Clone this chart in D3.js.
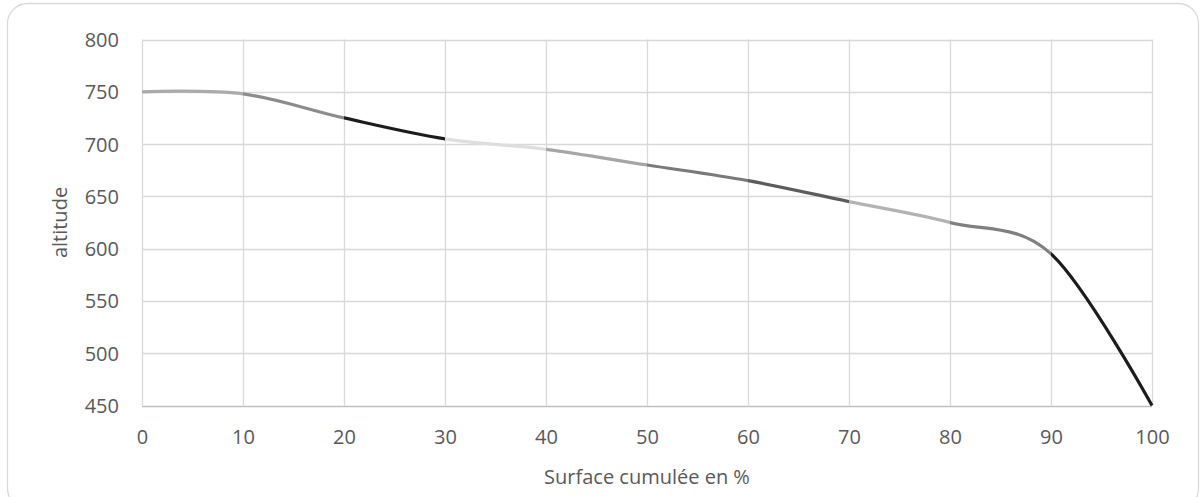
<!DOCTYPE html>
<html>
<head>
<meta charset="utf-8">
<script src="https://cdn.jsdelivr.net/npm/d3@7"></script>
<style>
  html, body { margin: 0; padding: 0; background: #fff; }
  svg { display: block; }
  text { font-family: "Open Sans", "Noto Sans", sans-serif; fill: #595959; }
</style>
</head>
<body>
<svg id="chart" width="1201" height="497"></svg>
<script>
// Cumulative surface (%) against altitude (m)
const surface = [0, 10, 20, 30, 40, 50, 60, 70, 80, 90, 100];
const altitude = [750, 748, 725, 705, 695, 680, 665, 645, 625, 595, 450];
// one grey per 10 % band
const segmentColors = ["#ababab", "#8c8c8c", "#1c1c1c", "#dedede", "#a6a6a6",
                       "#7a7a7a", "#5c5c5c", "#b3b3b3", "#808080", "#1c1c1c"];
const xTicks = [0, 10, 20, 30, 40, 50, 60, 70, 80, 90, 100];
const yTicks = [450, 500, 550, 600, 650, 700, 750, 800];
const xTitle = "Surface cumulée en %";
const yTitle = "altitude";

const svg = d3.select("#chart");
const plotLeft = 142, plotRight = 1152, plotTop = 39.5, plotBottom = 405.5;

const x = d3.scaleLinear().domain([0, 100]).range([plotLeft, plotRight]);
const y = d3.scaleLinear().domain([450, 800]).range([plotBottom, plotTop]);

// outer frame
svg.append("rect")
  .attr("x", 7.5).attr("y", 3.5)
  .attr("width", 1191).attr("height", 505)
  .attr("rx", 20).attr("ry", 20)
  .attr("fill", "#fff").attr("stroke", "#d9d9d9").attr("stroke-width", 1.3);

// gridlines
const grid = svg.append("g");
grid.selectAll(".hg").data(yTicks.filter(d => d !== 450)).enter().append("line")
  .attr("x1", plotLeft).attr("x2", plotRight)
  .attr("y1", d => Math.round(y(d)) + 0.5).attr("y2", d => Math.round(y(d)) + 0.5)
  .attr("stroke", "#d9d9d9").attr("stroke-width", 1.3);
grid.selectAll(".vg").data(xTicks).enter().append("line")
  .attr("x1", d => Math.round(x(d)) + 0.5).attr("x2", d => Math.round(x(d)) + 0.5)
  .attr("y1", plotTop).attr("y2", plotBottom)
  .attr("stroke", "#d9d9d9").attr("stroke-width", 1.3);

// horizontal axis line
svg.append("line")
  .attr("x1", plotLeft).attr("x2", plotRight)
  .attr("y1", Math.round(y(450)) + 0.5).attr("y2", Math.round(y(450)) + 0.5)
  .attr("stroke", "#bfbfbf").attr("stroke-width", 1.3);

// axes (labels only)
const xAxis = d3.axisBottom(x).tickValues(xTicks).tickSize(0).tickPadding(0);
const gx = svg.append("g").attr("transform", `translate(0,${plotBottom})`).call(xAxis);
gx.select(".domain").remove();
gx.selectAll("text").attr("y", 38).attr("dy", 0)
  .style("font-size", "20px").style("fill", "#595959");

const yAxis = d3.axisLeft(y).tickValues(yTicks).tickSize(0).tickPadding(0);
const gy = svg.append("g").attr("transform", `translate(119,0)`).call(yAxis);
gy.select(".domain").remove();
gy.selectAll("text").attr("x", 0).attr("dy", "0.35em")
  .style("font-size", "20px").style("fill", "#595959");

// axis titles
svg.append("text")
  .attr("x", (plotLeft + plotRight) / 2).attr("y", 484)
  .attr("text-anchor", "middle").style("font-size", "20px")
  .text(xTitle);
svg.append("text")
  .attr("transform", `translate(67,${(plotTop + plotBottom) / 2}) rotate(-90)`)
  .attr("text-anchor", "middle").style("font-size", "20px")
  .text(yTitle);

// smoothed profile, one colour per band
const pts = surface.map((s, i) => [s, altitude[i]]);
const line = d3.line()
  .x(d => x(d[0])).y(d => y(d[1]))
  .curve(d3.curveCardinal.tension(0));
const pathD = line(pts);

const defs = svg.append("defs");
segmentColors.forEach((c, i) => {
  const x0 = x(surface[i]), x1 = x(surface[i + 1]);
  defs.append("clipPath").attr("id", "band" + i)
    .append("rect")
    .attr("x", i === 0 ? x0 - 4 : x0).attr("y", 0)
    .attr("width", (x1 - x0) + (i === 0 || i === segmentColors.length - 1 ? 4 : 0))
    .attr("height", 497);
  svg.append("path")
    .attr("d", pathD)
    .attr("clip-path", `url(#band${i})`)
    .attr("fill", "none")
    .attr("stroke", c)
    .attr("stroke-width", 3.2)
    .attr("stroke-linecap", "butt");
});
</script>
</body>
</html>
